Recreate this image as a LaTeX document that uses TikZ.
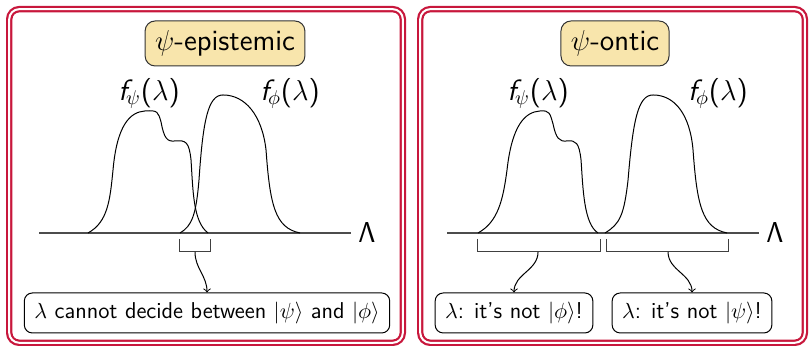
\documentclass[tikz,border=0pt]{standalone}
\usepackage{amsmath,amssymb}
\usepackage{xcolor}
\usepackage{tikz}
\definecolor{framered}{HTML}{C8173C}
\definecolor{tagfill}{HTML}{F8E5AC}
\newcommand{\bigfont}{\fontsize{14.7}{17}\selectfont}
\newcommand{\boxfont}{\fontsize{11.45}{13.5}\selectfont}
\newcommand{\dens}[1]{{\itshape f}\kern-0.5pt$_{#1}$($\lambda$)}

\begin{document}
\begin{tikzpicture}[font=\sffamily\bigfont,
  panel/.style={draw=framered,double,double distance=1pt,line width=1.1pt,rounded corners=5pt},
  tag/.style={draw=black!80,fill=tagfill,rounded corners=5pt,line width=0.5pt,inner xsep=5pt,inner ysep=3pt,minimum height=22.5pt},
  verdict/.style={draw,rounded corners=4pt,line width=0.5pt,inner xsep=5pt,minimum height=20pt,font=\sffamily\boxfont},
  axis/.style={black!70,line width=0.6pt},
  brak/.style={black!75,line width=0.5pt},
  curve/.style={line width=0.5pt},
  pick/.style={->,line width=0.5pt}]
\useasboundingbox (-3.638,-2.021) rectangle (10.579,4.094);
\begin{scope}
\draw[panel] (-3.476,-1.930) rectangle (3.441,3.933);
\node[tag] (ltag) at (0.316,3.330) {$\psi$-epistemic};
\node (lfpsi) at (-1.019,2.451) {\dens{\psi}};
\node (lfphi) at (1.459,2.451) {\dens{\phi}};
\draw[axis] (-2.952,0) -- (2.531,0) node[right,black] (llam) {$\mathsf{\Lambda}$};
\draw[curve] (-2.091,0) .. controls (-1.740,0.193) and (-1.705,0.580) .. (-1.652,1.107)
  .. controls (-1.582,1.898) and (-1.353,2.126) .. (-1.090,2.144)
  .. controls (-0.861,2.161) and (-0.861,2.126) .. (-0.808,1.951)
  .. controls (-0.756,1.669) and (-0.703,1.599) .. (-0.562,1.617)
  .. controls (-0.369,1.634) and (-0.316,1.599) .. (-0.281,1.283)
  .. controls (-0.246,0.756) and (-0.246,0.193) .. (0.018,0);
\draw[curve] (-0.474,0) .. controls (-0.264,0.123) and (-0.193,0.316) .. (-0.141,0.931)
  .. controls (-0.070,1.986) and (0.018,2.425) .. (0.281,2.425)
  .. controls (0.668,2.425) and (0.967,2.074) .. (1.037,1.459)
  .. controls (1.107,0.492) and (1.195,0.088) .. (1.634,0);
\draw[brak] (-0.492,-0.105) -- (-0.492,-0.334) -- (0.053,-0.334) -- (0.053,-0.105);
\coordinate (lgap) at (-0.211,-0.334);
\node[verdict] (lsay) at (0,-1.406) {$\lambda$ cannot decide between $|\psi\rangle$ and $|\phi\rangle$};
\draw[pick] (lgap) to[out=-90,in=90] (lsay.north);
\end{scope}
\begin{scope}[xshift=7.135cm]
\draw[panel] (-3.388,-1.930) rectangle (3.371,3.933);
\node[tag] (rtag) at (0.035,3.330) {$\psi$-ontic};
\node (rfpsi) at (-1.318,2.451) {\dens{\psi}};
\node (rfphi) at (1.845,2.451) {\dens{\phi}};
\draw[axis] (-2.917,0) -- (2.566,0) node[right,black] (rlam) {$\mathsf{\Lambda}$};
\draw[curve] (-2.372,0) .. controls (-2.021,0.193) and (-1.933,0.580) .. (-1.863,1.107)
  .. controls (-1.775,1.898) and (-1.546,2.126) .. (-1.283,2.144)
  .. controls (-1.107,2.161) and (-1.107,2.091) .. (-1.054,1.915)
  .. controls (-1.002,1.669) and (-0.949,1.599) .. (-0.808,1.617)
  .. controls (-0.650,1.634) and (-0.597,1.582) .. (-0.562,1.283)
  .. controls (-0.527,0.756) and (-0.510,0.158) .. (-0.264,0);
\draw[curve] (-0.141,0) .. controls (0.123,0.158) and (0.193,0.316) .. (0.264,0.931)
  .. controls (0.351,1.986) and (0.439,2.425) .. (0.703,2.425)
  .. controls (1.090,2.425) and (1.353,2.074) .. (1.406,1.459)
  .. controls (1.476,0.492) and (1.564,0.088) .. (2.003,0);
\draw[brak] (-2.390,-0.105) -- (-2.390,-0.334) -- (-0.228,-0.334) -- (-0.228,-0.105);
\draw[brak] (-0.123,-0.105) -- (-0.123,-0.334) -- (2.021,-0.334) -- (2.021,-0.105);
\coordinate (rgapa) at (-1.318,-0.334);
\coordinate (rgapb) at (0.967,-0.334);
\node[verdict] (rsaya) at (-1.740,-1.406) {$\lambda$: it's not $|\phi\rangle$!};
\node[verdict] (rsayb) at (1.388,-1.406) {$\lambda$: it's not $|\psi\rangle$!};
\draw[pick] (rgapa) to[out=-90,in=90] (rsaya.north);
\draw[pick] (rgapb) to[out=-90,in=90] (rsayb.north);
\end{scope}
\end{tikzpicture}
\end{document}
